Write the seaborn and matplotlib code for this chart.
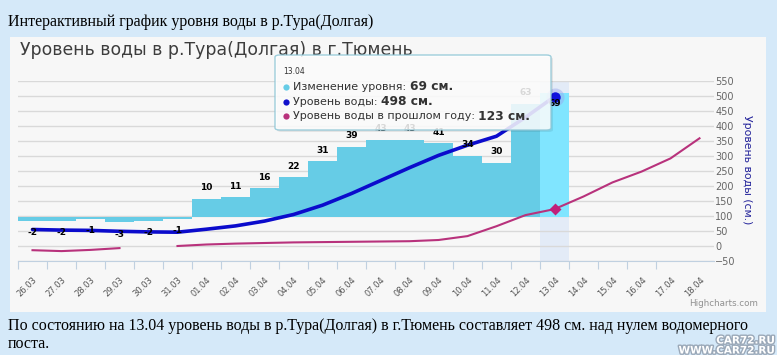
import numpy as np
import pandas as pd
import matplotlib
matplotlib.use('Agg')
import matplotlib.pyplot as plt
import matplotlib.patheffects as pe
from matplotlib.patches import Rectangle, FancyBboxPatch
from matplotlib.lines import Line2D
import seaborn as sns

# Data
dates = ['26.03', '27.03', '28.03', '29.03', '30.03', '31.03',
         '01.04', '02.04', '03.04', '04.04', '05.04', '06.04', '07.04', '08.04',
         '09.04', '10.04', '11.04', '12.04', '13.04', '14.04', '15.04', '16.04',
         '17.04', '18.04']
change = [-2, -2, -1, -3, -2, -1, 10, 11, 16, 22, 31, 39, 43, 43, 41, 34, 30, 63, 69]
level = [55, 53, 52, 49, 47, 46, 56, 67, 83, 105, 136, 175, 218, 261, 302, 336, 366, 429, 498]
last_year = [-14, -17, -13, -7, np.nan, 0, 5, 8, 10, 12, 13, 14, 15, 16, 20, 33, 66, 103,
             123, 165, 212, 248, 292, 359]
y_ticks = list(range(-50, 551, 50))
hover_date = '13.04'
tooltip_rows = [('Изменение уровня: ', '69 см.', '#66cce6'),
                ('Уровень воды: ', '498 см.', '#1111cc'),
                ('Уровень воды в прошлом году: ', '123 см.', '#b8327c')]

W, H = 777, 355
def fx(p):
    return p / W
def fy(p):
    return 1 - p / H

plt.rcParams['font.family'] = ['DejaVu Sans']
fig = plt.figure(figsize=(W / 100, H / 100), dpi=100)
fig.patch.set_facecolor('#d5e9f9')

# chart panel
fig.add_artist(Rectangle((fx(10), fy(312)), 756 / W, 275 / H, transform=fig.transFigure,
                         facecolor='#f7f7f7', edgecolor='none', zorder=-1))

rect = [fx(18), fy(261), 696 / W, 180 / H]
ax_g = fig.add_axes(rect)
ax_b = fig.add_axes(rect)
ax_l = fig.add_axes(rect)

# ---- bars (level change), own hidden axis ----
bar_df = pd.DataFrame({'date': dates[:len(change)], 'change': change})
pal = {d: ('#80e5ff' if d == hover_date else '#66cce6') for d in bar_df['date']}
sns.barplot(data=bar_df, x='date', y='change', hue='date', palette=pal, order=dates,
            width=1.0, saturation=1, errorbar=None, legend=False, linewidth=0, ax=ax_b)
ax_b.set_xlim(-0.5, len(dates) - 0.5)
ax_b.set_ylim(-(261 - 217) / 1.8, (217 - 81) / 1.8)
ax_b.set_axis_off()

# ---- grid / axes ----
ax_g.set_facecolor('#f7f7f7')
ax_g.set_xlim(-0.5, len(dates) - 0.5)
ax_g.set_ylim(-50, 550)
ax_g.set_yticks(y_ticks)
ax_g.yaxis.tick_right()
ax_g.tick_params(axis='y', length=0, pad=1, labelsize=7, labelcolor='#666666')
ax_g.grid(axis='y', color='#d9d9d9', lw=1)
ax_g.set_axisbelow(True)
ax_g.set_xticks(np.arange(len(dates) - 1) - 0.5)
ax_g.set_xticks(np.arange(len(dates)), minor=True)
ax_g.set_xticklabels([])
ax_g.set_xticklabels(dates, minor=True, rotation=45, ha='right', rotation_mode='anchor')
ax_g.tick_params(axis='x', which='major', length=6, color='#c0d0e0')
ax_g.tick_params(axis='x', which='minor', length=0, pad=10, labelsize=6, labelcolor='#555555')
for s in ['top', 'left', 'right']:
    ax_g.spines[s].set_visible(False)
ax_g.spines['bottom'].set_color('#c0d0e0')
hi = dates.index(hover_date)
ax_g.axvspan(hi - 0.5, hi + 0.5, color='#e3ebf7', zorder=0.4, lw=0)

# ---- lines ----
ax_l.plot(np.arange(len(last_year)), last_year, color='#b8327c', lw=1.5)
ax_l.plot(np.arange(len(level)), level, color='#0b0bcc', lw=2.6, solid_capstyle='round')
ax_l.plot(hi, level[hi], 'o', ms=13, color='#9aa6ee', alpha=0.45, mec='none')
ax_l.plot(hi, level[hi], 'o', ms=7.5, color='#1111dd', mec='none')
ax_l.plot(hi, last_year[hi], 'D', ms=6, color='#c0207a', mec='none')
ax_l.set_xlim(-0.5, len(dates) - 0.5)
ax_l.set_ylim(-50, 550)
ax_l.set_axis_off()

# data labels for the bars, drawn above the lines
top_lim = ax_b.get_ylim()[1]
for i, v in enumerate(change):
    off = 11 if v >= 0 else -12
    if v >= 0 and v + 18 / 1.8 > top_lim:
        off = -11
    ax_l.annotate(str(v), (i, v), xycoords=ax_b.transData, xytext=(0, off),
                  textcoords='offset pixels', ha='center', va='center',
                  fontsize=6.5, fontweight='bold', color='black', zorder=5)

# ---- texts ----
fig.text(fx(8), fy(22), 'Интерактивный график уровня воды в р.Тура(Долгая)',
         family='Liberation Serif', fontsize=11.5, va='center')
fig.text(fx(20), fy(50), 'Уровень воды в р.Тура(Долгая) в г.Тюмень',
         fontsize=12.4, color='#3d3d3d', va='center')
fig.text(fx(747), fy(170), 'Уровень воды (см.)', rotation=-90, ha='center', va='center',
         fontsize=7.8, color='#22229a')
fig.text(fx(758), fy(303), 'Highcharts.com', ha='right', va='center', fontsize=6.3,
         color='#909090')
fig.text(fx(8), fy(326), 'По состоянию на 13.04 уровень воды в р.Тура(Долгая) в г.Тюмень '
         'составляет 498 см. над нулем водомерного', family='Liberation Serif',
         fontsize=11.5, va='center')
fig.text(fx(8), fy(344), 'поста.', family='Liberation Serif', fontsize=11.5, va='center')

# site watermark in the corner
wm = [pe.withStroke(linewidth=2, foreground='#9aa8b8')]
fig.text(fx(775), fy(345.5), 'CAR72.RU\nWWW.CAR72.RU', ha='right', va='center',
         multialignment='right', linespacing=1.0, fontsize=7.5, fontweight='bold',
         color='white', path_effects=wm, zorder=20)

# ---- tooltip ----
fig.add_artist(FancyBboxPatch((fx(277), fy(132)), 276 / W, 75 / H,
                              boxstyle='round,pad=0,rounding_size=0.006',
                              transform=fig.transFigure, facecolor='#000000', alpha=0.08,
                              edgecolor='none', zorder=9))
fig.add_artist(FancyBboxPatch((fx(275), fy(130)), 276 / W, 75 / H,
                              boxstyle='round,pad=0,rounding_size=0.006',
                              transform=fig.transFigure, facecolor='white', alpha=0.85,
                              edgecolor='#8ec6d6', lw=1, zorder=10))
fig.text(fx(283), fy(72), hover_date, fontsize=5.5, color='#333333', va='center', zorder=11)

fig.canvas.draw()
r = fig.canvas.get_renderer()
for k, (lab, val, col) in enumerate(tooltip_rows):
    yy = 87 + 14.5 * k
    fig.add_artist(Line2D([fx(286)], [fy(yy)], marker='o', ms=4.5, color=col, mec='none',
                          transform=fig.transFigure, zorder=11))
    t = fig.text(fx(293), fy(yy), lab, fontsize=8, color='#333333', va='center', zorder=11)
    bb = t.get_window_extent(r)
    fig.text(bb.x1 / fig.bbox.width, fy(yy), val, fontsize=8.8, fontweight='bold',
             color='#333333', va='center', zorder=11)

fig.savefig('out.png', dpi=100, facecolor=fig.get_facecolor())
